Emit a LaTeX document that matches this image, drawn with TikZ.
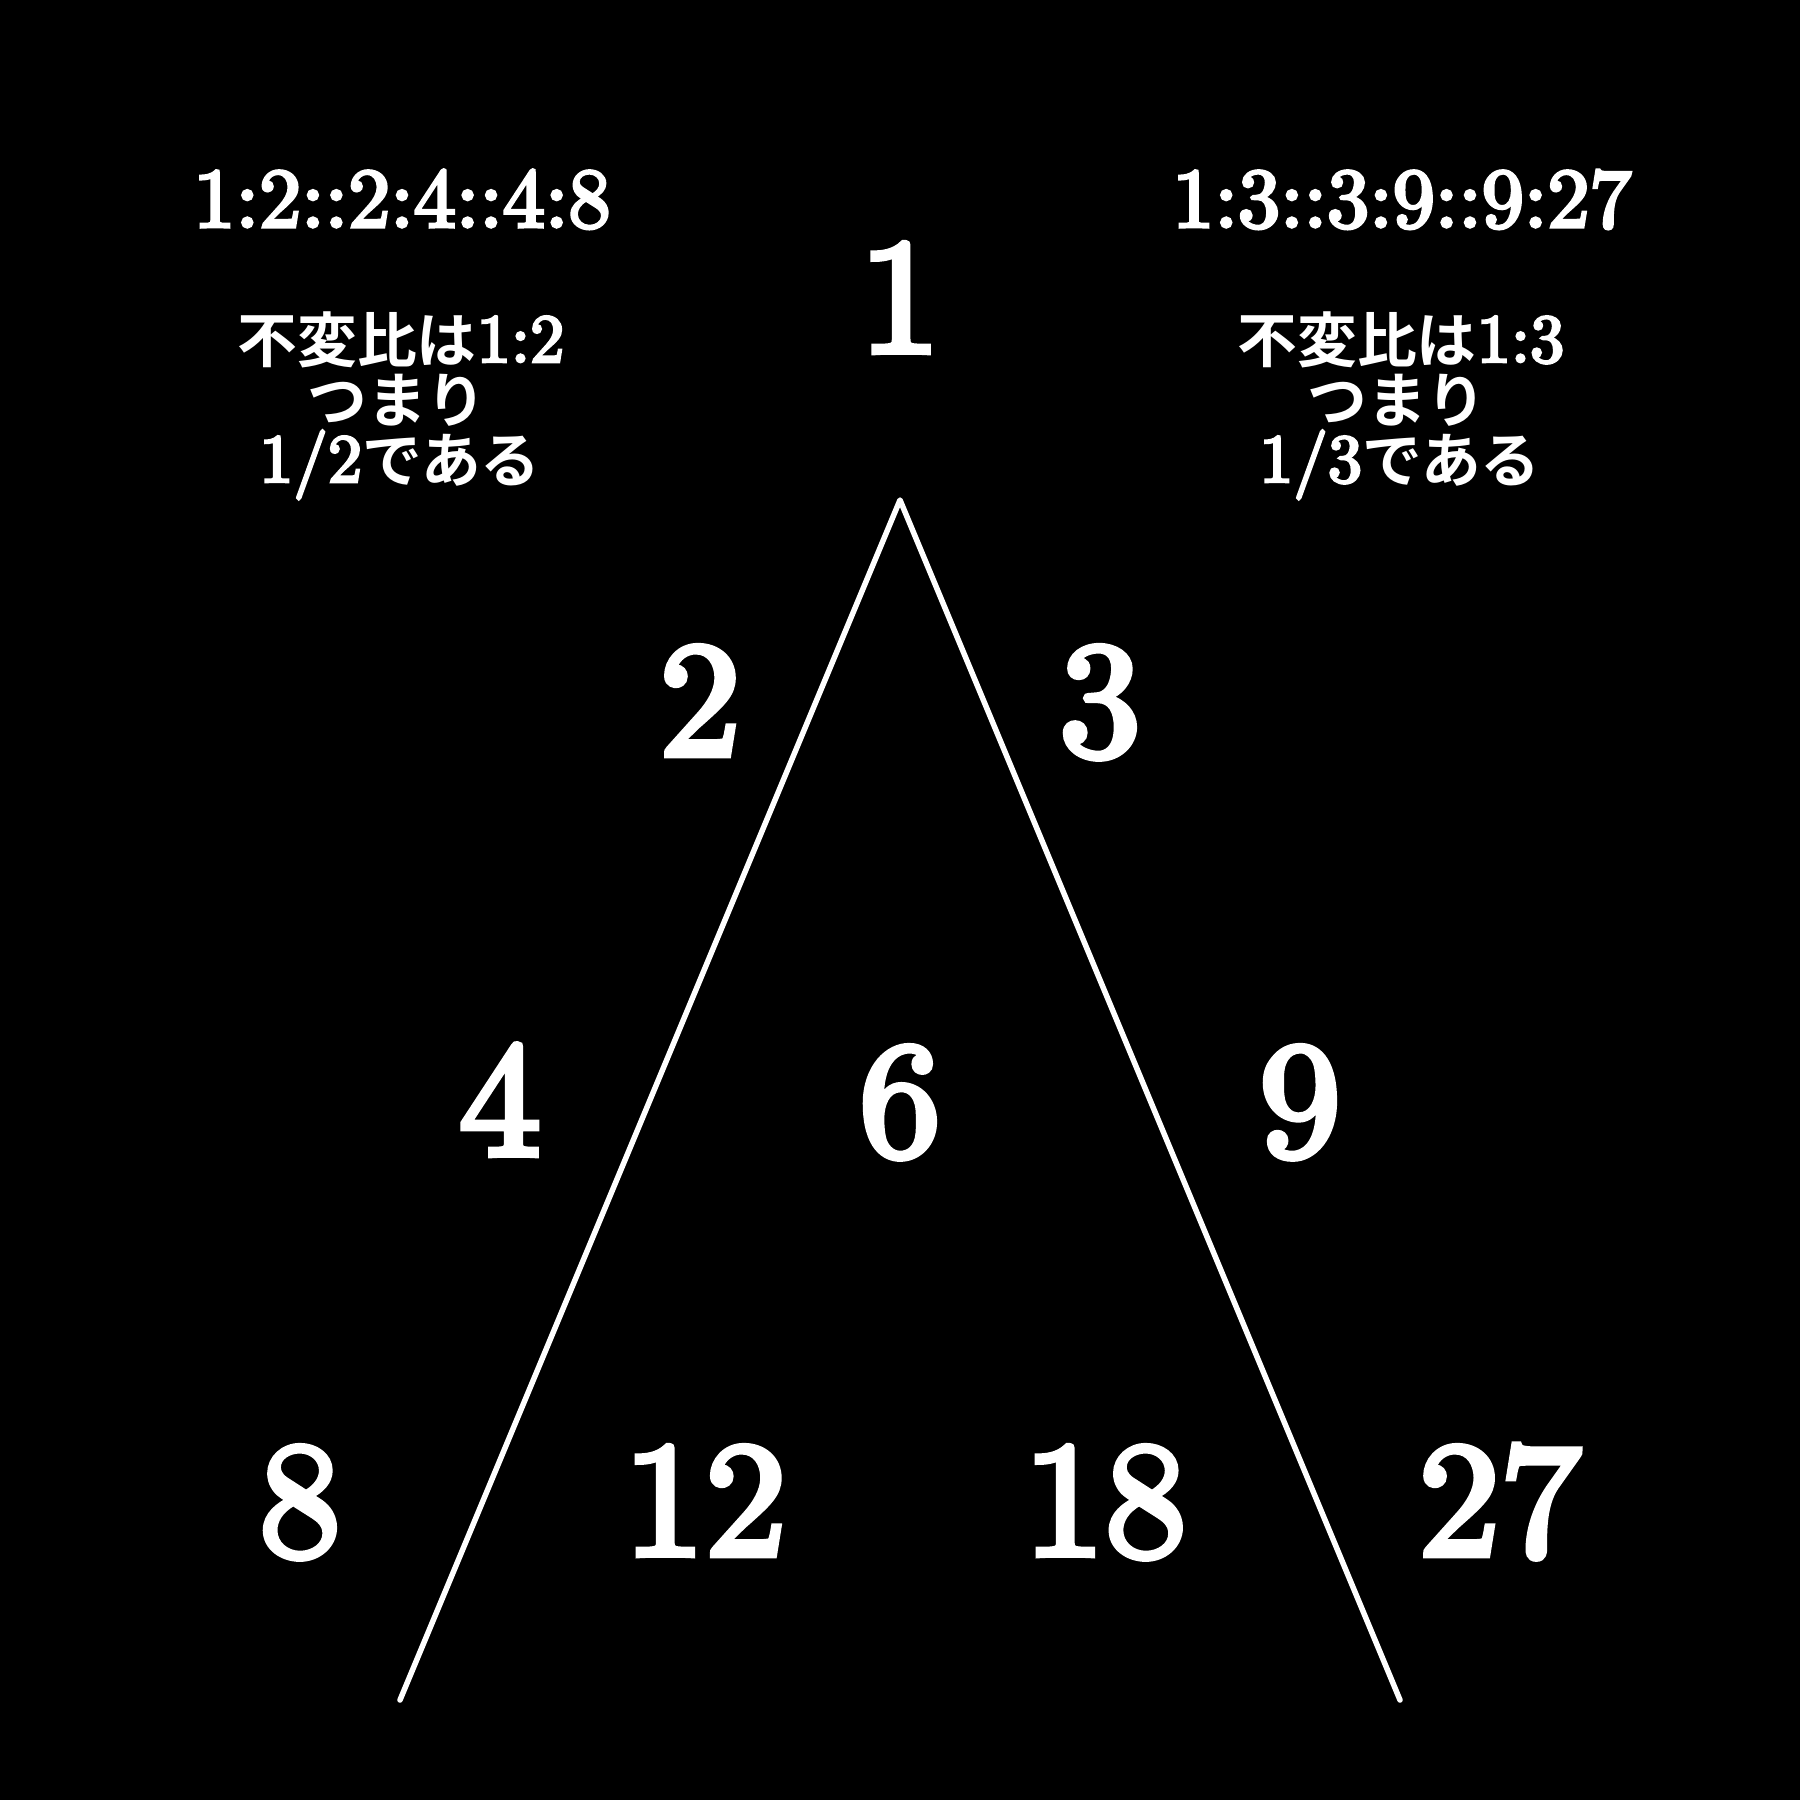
\documentclass[tikz,border=0pt]{standalone}
\usepackage{fontspec}
\newfontfamily\numfont{lmroman10-regular.otf}[FakeBold=4]
\newfontfamily\jp{Noto Sans CJK JP Bold}
\newcommand\jpt[1]{{\jp\fontsize{17}{17}\selectfont #1}}
\begin{document}
\begin{tikzpicture}[x=0.1mm,y=-0.1mm,
  big/.style={text=white,inner sep=0pt,anchor=base,font=\numfont\fontsize{46.5}{47}\selectfont},
  ratio/.style={text=white,inner sep=0pt,anchor=base,font=\numfont\fontsize{24}{24}\selectfont},
  note/.style={text=white,inner sep=0pt,anchor=base,text height=4.0mm,text depth=0.5mm,font=\numfont\fontsize{19.5}{20}\selectfont},
  edge/.style={draw=white,line width=0.55mm,line cap=round,line join=round}]
\fill[black] (0,0) rectangle (1800,1800);
\useasboundingbox (0,0) rectangle (1800,1800);
% ratios
\node[ratio] (r1) at (402,227) {1:2::2:4::4:8};
\node[ratio] (r2) at (1402,227) {1:3::3:9::9:27};
% notes left
\node[note] (a1) at (401,362) {\jpt{不変比は}1:2};
\node[note] (a2) at (397,423) {\jpt{つまり}};
\node[note] (a3) at (400,482) {1/2\jpt{である}};
% notes right
\node[note] (b1) at (1401,362) {\jpt{不変比は}1:3};
\node[note] (b2) at (1397,423) {\jpt{つまり}};
\node[note] (b3) at (1400,482) {1/3\jpt{である}};
% numbers
\node[big] (n1) at (900,352) {1};
\node[big] (n2) at (700,755) {2};
\node[big] (n3) at (1100,755) {3};
\node[big] (n4) at (500,1155) {4};
\node[big] (n6) at (900,1155) {6};
\node[big] (n9) at (1300,1155) {9};
\node[big] (n8) at (300,1555) {8};
\node[big] (n12) at (705,1555) {12};
\node[big] (n18) at (1105,1555) {18};
\node[big] (n27) at (1500,1555) {27};
% triangle legs
\coordinate (apex) at (900,500);
\coordinate (bl) at (400,1700);
\coordinate (br) at (1400,1700);
\draw[edge] (bl) -- (apex) -- (br);
\end{tikzpicture}
\end{document}
